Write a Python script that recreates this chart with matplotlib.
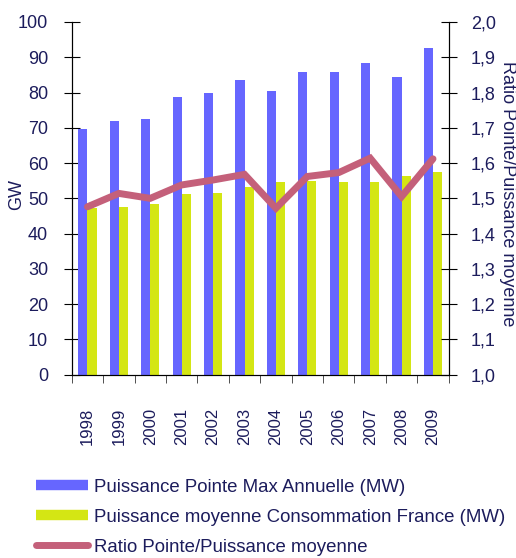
import matplotlib
matplotlib.use("Agg")
import matplotlib.pyplot as plt
from matplotlib.lines import Line2D
import numpy as np

plt.rcParams['font.family'] = ['Liberation Sans', 'DejaVu Sans']

years = ['1998', '1999', '2000', '2001', '2002', '2003',
         '2004', '2005', '2006', '2007', '2008', '2009']
pointe_max = [69.6, 71.9, 72.5, 78.7, 79.8, 83.6, 80.4, 85.7, 85.7, 88.3, 84.5, 92.5]
puissance_moy = [47.2, 47.6, 48.4, 51.3, 51.5, 53.3, 54.5, 54.9, 54.5, 54.6, 56.3, 57.5]
ratio = [1.476, 1.514, 1.500, 1.538, 1.552, 1.568, 1.472, 1.562, 1.573, 1.614, 1.505, 1.612]

label_max = 'Puissance Pointe Max Annuelle (MW)'
label_moy = 'Puissance moyenne Consommation France (MW)'
label_ratio = 'Ratio Pointe/Puissance moyenne'

c_blue = '#6666ff'
c_yellow = '#d4e614'
c_line = '#c4607a'
c_text = '#1c1c5c'

fig = plt.figure(figsize=(5.16, 5.58), dpi=100)
ax = fig.add_axes([0.139, 0.3285, 0.7306, 0.6321])
ax2 = ax.twinx()

x = np.arange(len(years))
w = 0.29
ax.bar(x - w / 2, pointe_max, width=w, color=c_blue, zorder=2)
ax.bar(x + w / 2, puissance_moy, width=w, color=c_yellow, zorder=2)
ax2.plot(x, ratio, color=c_line, lw=5, solid_capstyle='round', solid_joinstyle='miter', zorder=3)

ax.set_xlim(-0.5, len(years) - 0.5)
ax.set_ylim(0, 100)
ax2.set_ylim(1.0, 2.0)
ax.set_yticks(np.arange(0, 101, 10))
ax2.set_yticks(np.arange(1.0, 2.01, 0.1))
ax2.set_yticklabels([f'{v:.1f}'.replace('.', ',') for v in np.arange(1.0, 2.01, 0.1)])

ax.set_xticks(x)
ax.set_xticklabels(years, rotation=90, color=c_text, fontsize=12)
ax.set_xticks(np.arange(-0.5, len(years)), minor=True)
ax.tick_params(axis='x', which='major', length=0, pad=24)
ax.tick_params(axis='x', which='minor', length=6, direction='out', color='#333333')
ax.tick_params(axis='y', labelsize=13, labelcolor=c_text, direction='inout', length=12, pad=11)
ax2.tick_params(axis='y', labelsize=13, labelcolor=c_text, direction='inout', length=12, pad=10)

for a in (ax, ax2):
    a.spines['top'].set_visible(False)
    a.patch.set_visible(False)
ax.spines['bottom'].set_color('#333333')

ax.set_ylabel('GW', color=c_text, fontsize=13)
ax.yaxis.set_label_coords(-0.124, 0.51)
ax2.set_ylabel(label_ratio, color=c_text, fontsize=13, rotation=270, va='center')
ax2.yaxis.set_label_coords(1.157, 0.512)

handles = [
    Line2D([], [], color=c_blue, lw=7.5, solid_capstyle='butt'),
    Line2D([], [], color=c_yellow, lw=7.5, solid_capstyle='butt'),
    Line2D([], [], color=c_line, lw=5, solid_capstyle='round'),
]
fig.legend(handles, [label_max, label_moy, label_ratio], loc='upper left',
           bbox_to_anchor=(0.07, 0.142), frameon=False, fontsize=13.4,
           handlelength=2.8, handletextpad=0.32, labelspacing=0.7,
           labelcolor=c_text, borderaxespad=0, borderpad=0)

fig.savefig('out.png', dpi=100)
